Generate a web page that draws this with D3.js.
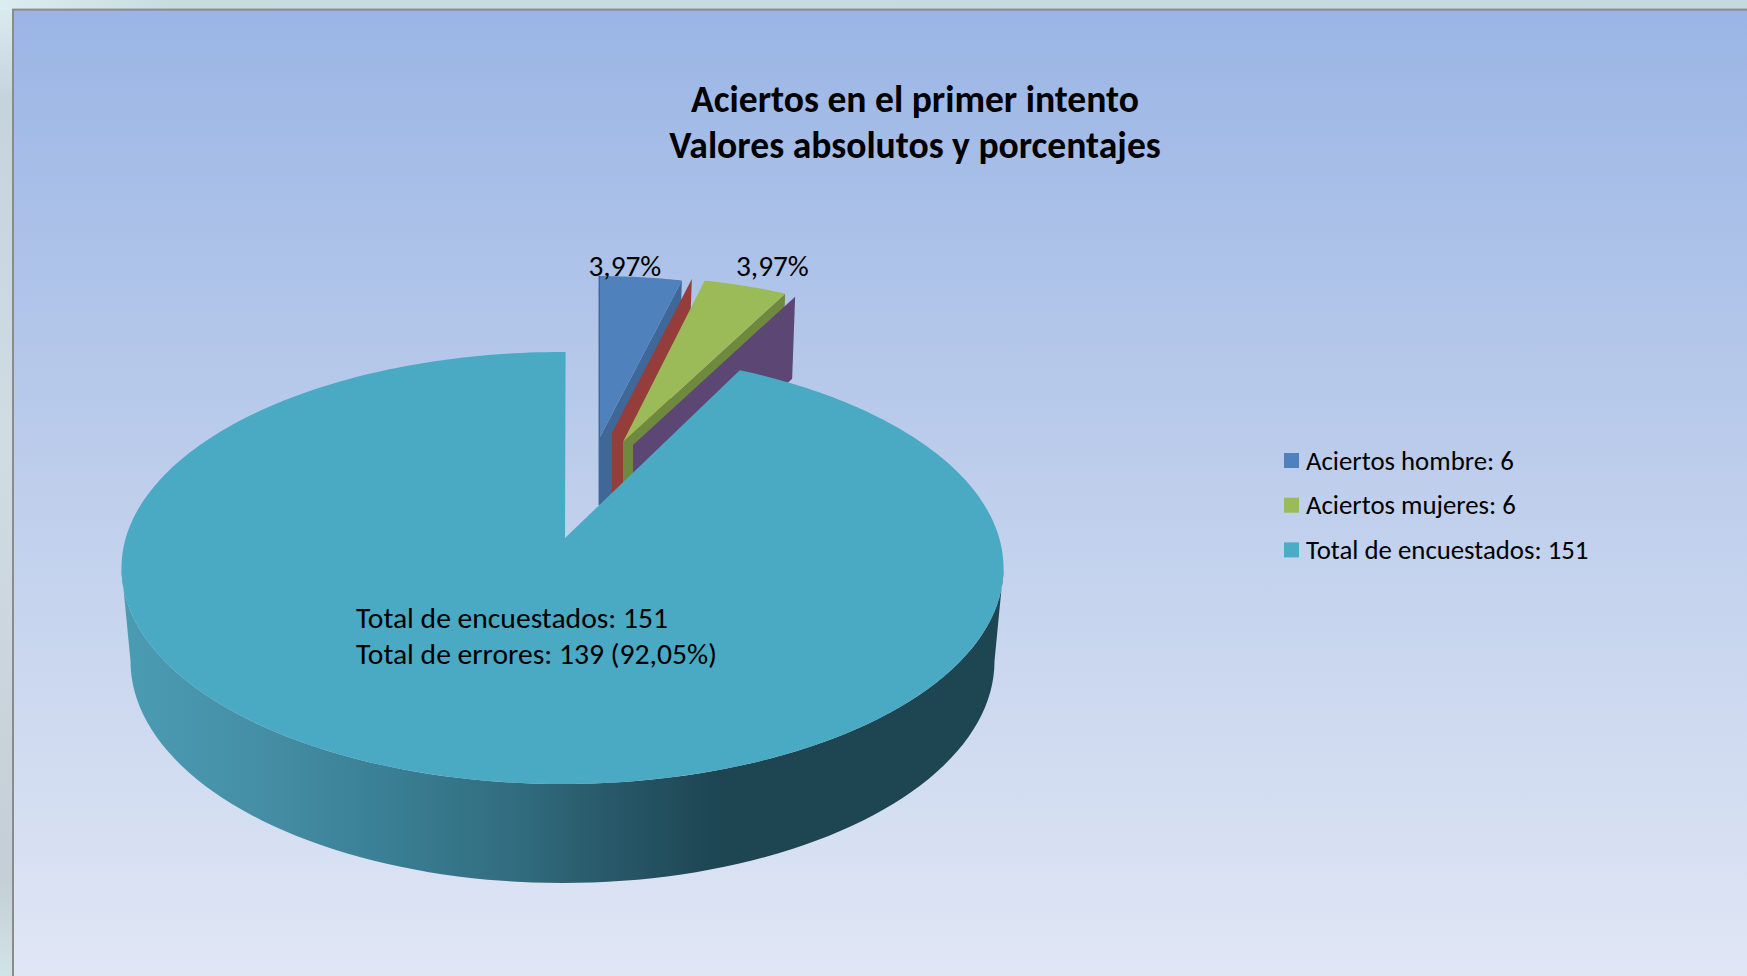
<!DOCTYPE html>
<html><head><meta charset="utf-8">
<script src="https://cdn.jsdelivr.net/npm/d3@7"></script>
<style>html,body{margin:0;padding:0;background:#cfe0e6;overflow:hidden}svg{display:block}text{font-family:Carlito,Lato,"Open Sans",sans-serif;fill:#000}</style>
</head><body><svg id="c" width="1747" height="976"></svg>
<script>
const titleLines = ["Aciertos en el primer intento", "Valores absolutos y porcentajes"];
const sliceNames = ["Aciertos hombre", "Aciertos mujeres", "Total de encuestados"];
const sliceValues = [6, 6, 139];
const totalSurveyed = 151;
const sliceLabels = ["3,97%", "3,97%"];
const noteLines = ["Total de encuestados: 151", "Total de errores: 139 (92,05%)"];
const legendLabels = sliceNames.map((n, i) => `${n}: ${i === 2 ? totalSurveyed : sliceValues[i]}`);

const svg = d3.select("#c");
const defs = svg.append("defs");
function grad(id, x1, y1, x2, y2, stops, units) {
  const g = defs.append("linearGradient").attr("id", id).attr("gradientUnits", units || "objectBoundingBox")
    .attr("x1", x1).attr("y1", y1).attr("x2", x2).attr("y2", y2);
  stops.forEach(s => g.append("stop").attr("offset", s[0]).attr("stop-color", s[1]));
}
grad("bg", 0, 0, 0, 1, [[0, "#9ab5e5"], [0.5, "#bfcfec"], [1, "#e1e7f5"]]);
grad("outL", 0, 0, 0, 1, [[0, "#dcedf1"], [0.1, "#c5d3dd"], [0.45, "#d0dce4"], [0.9, "#c4ced6"], [1, "#d0e4e6"]]);
grad("outT", 0, 0, 1, 0, [[0, "#dcedf1"], [0.1, "#c8dbe0"], [1, "#c5d9de"]]);
grad("side", 122, 0, 1003, 0, [[0, "#4a9cb3"], [0.15, "#458fa6"], [0.3, "#3a7f94"], [0.45, "#316c7e"], [0.55, "#28596a"], [0.68, "#1d4552"], [1, "#1d4552"]], "userSpaceOnUse");

svg.append("rect").attr("width", 14).attr("height", 976).attr("fill", "url(#outL)");
svg.append("rect").attr("width", 1747).attr("height", 10).attr("fill", "url(#outT)");
svg.append("rect").attr("x", 13).attr("y", 9.6).attr("width", 1745).attr("height", 980)
  .attr("fill", "url(#bg)").attr("stroke", "#8b8b8b").attr("stroke-width", 2);

// Projection of the tilted pie: the apex sits above the ellipse centre
const cx = 562.5, cy = 568, rx = 441, ry = 216;
const apexMain = [565, 538];
const depth = 85;
const pie = d3.pie().sort(null).value(d => d);
const arcs = pie(sliceValues);
const deg = r => r * 180 / Math.PI;
const rad = a => a * Math.PI / 180;
// perspective foreshortens the exploded sectors' angles
const warp = d3.scaleLinear().domain([0, deg(arcs[0].endAngle), deg(arcs[1].endAngle), 360]).range([0, 12, 24.4, 360]);
const rim = (a, k, apex) => [apex[0] + k * rx * Math.sin(rad(a)), apex[1] + k * (cy - apexMain[1] - ry * Math.cos(rad(a)))];
const line = d3.line();

function wall(apex, a, k, color) {
  const r = rim(a, k, apex);
  svg.append("path").attr("fill", color)
    .attr("d", line([apex, r, [r[0] - 3, r[1] + depth - 3], [apex[0], apex[1] + depth]]) + "Z");
}
function topFace(apex, a0, a1, k, color) {
  const pts = [apex];
  d3.range(a0, a1 + 0.01, (a1 - a0) / 20).forEach(a => pts.push(rim(a, k, apex)));
  svg.append("path").attr("fill", color).attr("d", line(pts) + "Z");
}
const a1 = warp(deg(arcs[0].endAngle)), a2 = warp(deg(arcs[1].endAngle));
// exploded sectors, back to front
wall([600, 437], a1 + 0.4, 0.865, "#3f6797");
svg.append("path").attr("d", line([[599.3, 276], [599.3, 505]])).attr("stroke", "#3f6797").attr("stroke-width", 1.5).attr("fill", "none");
topFace([600, 437], 0, a1 + 0.4, 0.865, "#4f81bd");
wall([612, 433], a1 + 0.3, 0.85, "#953d3b");
wall([623, 442], a2, 0.89, "#6f8a3f");
topFace([623, 442], a1, a2, 0.89, "#9bbb59");
wall([633, 445], a2, 0.89, "#5c4774");

// main sector: side first, then top
const topEll = a => [cx + rx * Math.sin(rad(a)), cy - ry * Math.cos(rad(a))];
const botEll = a => [cx + 432 * Math.sin(rad(a)), 661 - 222 * Math.cos(rad(a))];
const angs = d3.range(90, 270.01, 2);
svg.append("path").attr("fill", "url(#side)")
  .attr("d", line(angs.map(topEll).concat(angs.slice().reverse().map(botEll))) + "Z");
const m0 = deg(arcs[2].startAngle), m1 = deg(arcs[2].endAngle);
const mainPts = [apexMain].concat(d3.range(warp(m0) - 0.7, warp(m1) + 0.4, 1).map(topEll));
mainPts.push(topEll(360.4));
svg.append("path").attr("fill", "#4aa9c3").attr("d", line(mainPts) + "Z");

// texts
svg.selectAll(".title").data(titleLines).join("text").attr("class", "title")
  .attr("x", 915).attr("y", (d, i) => 111.5 + i * 46).attr("text-anchor", "middle")
  .attr("font-weight", 700).attr("font-size", 37.6).text(d => d);
svg.selectAll(".pct").data(sliceLabels).join("text").attr("class", "pct")
  .attr("x", (d, i) => [588.5, 736][i]).attr("y", 275.5).attr("font-size", 29.3).text(d => d);
svg.selectAll(".note").data(noteLines).join("text").attr("class", "note")
  .attr("x", 356).attr("y", (d, i) => 627.5 + i * 36).attr("font-size", 29.6).text(d => d);

const colors = ["#4f81bd", "#9bbb59", "#4aacc5"];
const lg = svg.selectAll(".lg").data(legendLabels).join("g").attr("class", "lg")
  .attr("transform", (d, i) => `translate(1284,${453 + i * 44.7})`);
lg.append("rect").attr("width", 15).attr("height", 15).attr("fill", (d, i) => colors[i]);
lg.append("text").attr("x", 22).attr("y", 16.5).attr("font-size", 26.8).text(d => d);
</script></body></html>
